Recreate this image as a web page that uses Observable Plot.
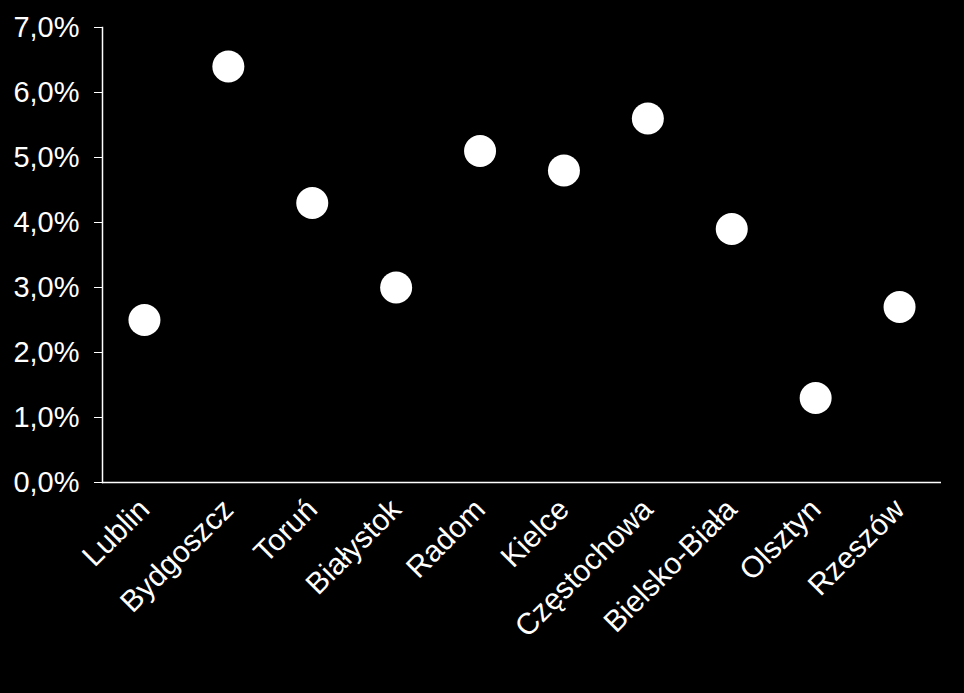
<!DOCTYPE html>
<html>
<head>
<meta charset="utf-8">
<script src="https://cdn.jsdelivr.net/npm/d3@7"></script>
<script src="https://cdn.jsdelivr.net/npm/@observablehq/plot@0.6"></script>
<style>
  html, body { margin: 0; padding: 0; background: #000; }
  #chart svg { display: block; }
</style>
</head>
<body>
<div id="chart"></div>
<script>
const cities = ["Lublin", "Bydgoszcz", "Toruń", "Białystok", "Radom", "Kielce", "Częstochowa", "Bielsko-Biała", "Olsztyn", "Rzeszów"];
const values = [2.5, 6.4, 4.3, 3.0, 5.1, 4.8, 5.6, 3.9, 1.3, 2.7];
const yTicks = [0, 1, 2, 3, 4, 5, 6, 7];

const data = cities.map((c, i) => ({city: c, value: values[i]}));
const fmt = d => d.toFixed(1).replace(".", ",") + "%";

const chart = Plot.plot({
  width: 964,
  height: 693,
  marginLeft: 102,
  marginRight: 23,
  marginTop: 27,
  marginBottom: 211,
  style: {background: "#000", color: "#fff", fontFamily: "Liberation Sans, Arial, sans-serif", fontSize: "30px"},
  x: {type: "point", domain: cities, padding: 0.5, round: false, label: null},
  y: {domain: [0, 7], label: null},
  marks: [
    Plot.axisY({ticks: yTicks, tickFormat: fmt, tickSize: 8, tickPadding: 15, stroke: "#fff", fill: "#fff", fontSize: 29, label: null}),
    Plot.axisX({tickSize: 0, tickPadding: 22, tickRotate: -45, fill: "#fff", fontSize: 30, label: null}),
    Plot.frame({anchor: "left", stroke: "#fff", strokeWidth: 1.5}),
    Plot.ruleY([0], {stroke: "#fff", strokeWidth: 1.5}),
    Plot.dot(data, {x: "city", y: "value", r: 16, fill: "#fff", stroke: "none"})
  ]
});
document.getElementById("chart").appendChild(chart);
</script>
</body>
</html>
